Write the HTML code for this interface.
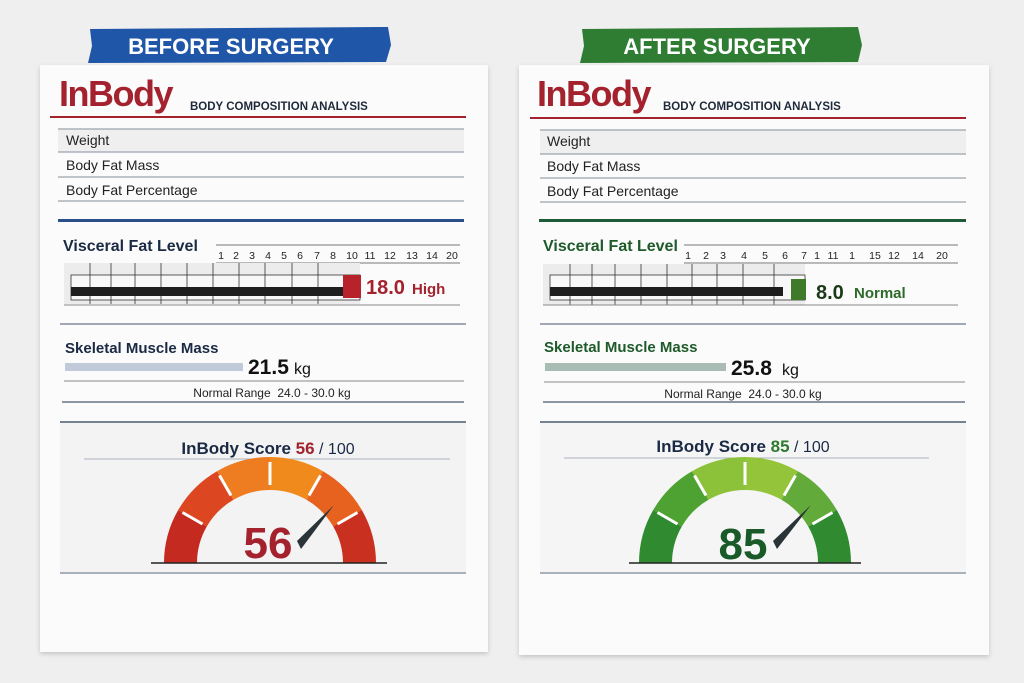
<!DOCTYPE html>
<html><head><meta charset="utf-8"><style>
html,body{margin:0;padding:0;background:#efefef;}
svg{display:block;}
text{font-family:"Liberation Sans",sans-serif;}
</style></head><body>
<svg width="1024" height="683" viewBox="0 0 1024 683" xmlns="http://www.w3.org/2000/svg">
<defs>
<filter id="sh" x="-5%" y="-5%" width="110%" height="110%"><feDropShadow dx="0" dy="2" stdDeviation="2.5" flood-color="#000" flood-opacity="0.18"/></filter>
</defs>
<rect width="1024" height="683" fill="#efefef"/>

<!-- LEFT -->
<path d="M90,29 L388,27 L391,45 L386,62 L88,63 L92,46Z" fill="#1f56a8"/>
<text x="231" y="54" text-anchor="middle" font-size="22" font-weight="bold" fill="#fff">BEFORE SURGERY</text>
<rect x="40" y="65" width="448" height="587" fill="#fbfbfb" filter="url(#sh)"/>
<text x="59" y="106" font-size="36" font-weight="bold" fill="#a3222e" letter-spacing="-1.5">InBody</text>
<text x="190" y="110" font-size="11.5" font-weight="bold" fill="#1e2a3a">BODY COMPOSITION ANALYSIS</text>
<rect x="50" y="116" width="416" height="2" fill="#a3222e"/>
<rect x="58" y="129" width="406" height="23" fill="#efefef"/>
<g stroke="#9aa3ad" stroke-width="1.2"><line x1="58" y1="129" x2="464" y2="129"/><line x1="58" y1="152" x2="464" y2="152"/><line x1="58" y1="177" x2="464" y2="177"/><line x1="58" y1="201" x2="464" y2="201"/></g>
<g font-size="14" fill="#222"><text x="66" y="145">Weight</text><text x="66" y="170">Body Fat Mass</text><text x="66" y="195">Body Fat Percentage</text></g>
<rect x="58" y="219" width="406" height="3" fill="#2a4f8a"/>
<text x="63" y="251" font-size="16" font-weight="bold" fill="#1a2a45">Visceral Fat Level</text>
<g stroke="#777" stroke-width="1"><line x1="216" y1="245" x2="460" y2="245"/><line x1="216" y1="263" x2="460" y2="263"/></g>
<g font-size="10.5" fill="#222" text-anchor="middle"><text x="221" y="259">1</text><text x="236" y="259">2</text><text x="252" y="259">3</text><text x="268" y="259">4</text><text x="284" y="259">5</text><text x="300" y="259">6</text><text x="317" y="259">7</text><text x="333" y="259">8</text><text x="352" y="259">10</text><text x="370" y="259">11</text><text x="390" y="259">12</text><text x="412" y="259">13</text><text x="432" y="259">14</text><text x="452" y="259">20</text></g>
<rect x="64" y="263" width="296" height="41" fill="#ececec"/>
<rect x="71" y="275" width="289" height="25" fill="#f8f8f8" stroke="#333" stroke-width="0.8"/>
<g stroke="#333" stroke-width="0.8"><line x1="90" y1="263" x2="90" y2="304"/><line x1="111" y1="263" x2="111" y2="304"/><line x1="135" y1="263" x2="135" y2="304"/><line x1="161" y1="263" x2="161" y2="304"/><line x1="187" y1="263" x2="187" y2="304"/><line x1="213" y1="263" x2="213" y2="304"/><line x1="239" y1="263" x2="239" y2="304"/><line x1="265" y1="263" x2="265" y2="304"/><line x1="292" y1="263" x2="292" y2="304"/><line x1="318" y1="263" x2="318" y2="304"/></g>
<rect x="71" y="287" width="274" height="9" fill="#1e1e1e"/>
<rect x="343" y="275" width="18" height="23" fill="#b8232b"/>
<text x="366" y="294" font-size="20" font-weight="bold" fill="#a3222e">18.0</text>
<text x="412" y="294" font-size="15" font-weight="bold" fill="#a3222e">High</text>
<line x1="64" y1="305" x2="460" y2="305" stroke="#888" stroke-width="1"/>
<line x1="60" y1="324" x2="466" y2="324" stroke="#6a7888" stroke-width="1.2"/>
<text x="65" y="353" font-size="15" font-weight="bold" fill="#1a2a45">Skeletal Muscle Mass</text>
<rect x="65" y="363" width="178" height="8" fill="#c0cad8"/>
<text x="248" y="374" font-size="21" font-weight="bold" fill="#111">21.5</text>
<text x="294" y="374" font-size="16" fill="#111">kg</text>
<line x1="64" y1="381" x2="464" y2="381" stroke="#888" stroke-width="1"/>
<text x="272" y="397" text-anchor="middle" font-size="12" fill="#222">Normal Range&#160; 24.0 - 30.0 kg</text>
<line x1="62" y1="402" x2="464" y2="402" stroke="#4a5a6e" stroke-width="1.2"/>
<rect x="60" y="423" width="406" height="150" fill="#f3f3f3"/>
<line x1="60" y1="422" x2="466" y2="422" stroke="#4a5a6e" stroke-width="1.5"/>
<text x="268" y="454" text-anchor="middle" font-size="17" font-weight="bold" fill="#1a2a45">InBody Score <tspan fill="#a3222e">56</tspan><tspan font-weight="normal" font-size="16"> / 100</tspan></text>
<line x1="84" y1="459" x2="450" y2="459" stroke="#aab2bc" stroke-width="1"/>
<g transform="translate(270,563)">
<path d="M-106,0 A106,106 0 0 1 -91.8,-53 L-63.2,-36.5 A73,73 0 0 0 -73,0Z" fill="#c42a1f"/>
<path d="M-91.8,-53 A106,106 0 0 1 -53,-91.8 L-36.5,-63.2 A73,73 0 0 0 -63.2,-36.5Z" fill="#dc4722"/>
<path d="M-53,-91.8 A106,106 0 0 1 0,-106 L0,-73 A73,73 0 0 0 -36.5,-63.2Z" fill="#ee7c20"/>
<path d="M0,-106 A106,106 0 0 1 53,-91.8 L36.5,-63.2 A73,73 0 0 0 0,-73Z" fill="#f08a1c"/>
<path d="M53,-91.8 A106,106 0 0 1 91.8,-53 L63.2,-36.5 A73,73 0 0 0 36.5,-63.2Z" fill="#e8621f"/>
<path d="M91.8,-53 A106,106 0 0 1 106,0 L73,0 A73,73 0 0 0 63.2,-36.5Z" fill="#c9301f"/>
<g stroke="#fff" stroke-width="3"><line x1="-67.5" y1="-39" x2="-87.5" y2="-50.5"/><line x1="-39" y1="-67.5" x2="-50.5" y2="-87.5"/><line x1="0" y1="-78" x2="0" y2="-101"/><line x1="39" y1="-67.5" x2="50.5" y2="-87.5"/><line x1="67.5" y1="-39" x2="87.5" y2="-50.5"/></g>
<polygon points="27,-22 64,-58 31,-14" fill="#2a3438"/>
<line x1="-119" y1="0" x2="117" y2="0" stroke="#222" stroke-width="1.5"/>
<text x="-2" y="-5" text-anchor="middle" font-size="44" font-weight="bold" fill="#a3222e">56</text>
</g>
<line x1="60" y1="573" x2="466" y2="573" stroke="#7a8898" stroke-width="1.2"/>

<!-- RIGHT -->
<path d="M582,29 L858,27 L862,45 L858,62 L580,63 L584,46Z" fill="#2e7d32"/>
<text x="717" y="54" text-anchor="middle" font-size="22" font-weight="bold" fill="#fff">AFTER SURGERY</text>
<rect x="519" y="65" width="470" height="590" fill="#fbfbfb" filter="url(#sh)"/>
<text x="537" y="106" font-size="36" font-weight="bold" fill="#a3222e" letter-spacing="-1.5">InBody</text>
<text x="663" y="110" font-size="11.5" font-weight="bold" fill="#1e2a3a">BODY COMPOSITION ANALYSIS</text>
<rect x="530" y="117" width="436" height="2" fill="#a3222e"/>
<rect x="540" y="130" width="426" height="24" fill="#efefef"/>
<g stroke="#9aa3ad" stroke-width="1.2"><line x1="540" y1="130" x2="966" y2="130"/><line x1="540" y1="154" x2="966" y2="154"/><line x1="540" y1="178" x2="966" y2="178"/><line x1="540" y1="202" x2="966" y2="202"/></g>
<g font-size="14" fill="#222"><text x="547" y="146">Weight</text><text x="547" y="171">Body Fat Mass</text><text x="547" y="196">Body Fat Percentage</text></g>
<rect x="539" y="219" width="427" height="3" fill="#1e5a3a"/>
<text x="543" y="251" font-size="16" font-weight="bold" fill="#1e5a2a">Visceral Fat Level</text>
<g stroke="#777" stroke-width="1"><line x1="684" y1="245" x2="958" y2="245"/><line x1="684" y1="263" x2="958" y2="263"/></g>
<g font-size="10.5" fill="#222" text-anchor="middle"><text x="688" y="259">1</text><text x="706" y="259">2</text><text x="723" y="259">3</text><text x="744" y="259">4</text><text x="765" y="259">5</text><text x="785" y="259">6</text><text x="804" y="259">7</text><text x="817" y="259">1</text><text x="833" y="259">11</text><text x="852" y="259">1</text><text x="875" y="259">15</text><text x="894" y="259">12</text><text x="918" y="259">14</text><text x="942" y="259">20</text></g>
<rect x="543" y="264" width="262" height="41" fill="#ececec"/>
<rect x="550" y="275" width="255" height="25" fill="#f8f8f8" stroke="#333" stroke-width="0.8"/>
<g stroke="#333" stroke-width="0.8"><line x1="570" y1="264" x2="570" y2="305"/><line x1="592" y1="264" x2="592" y2="305"/><line x1="615" y1="264" x2="615" y2="305"/><line x1="641" y1="264" x2="641" y2="305"/><line x1="667" y1="264" x2="667" y2="305"/><line x1="692" y1="264" x2="692" y2="305"/><line x1="717" y1="264" x2="717" y2="305"/><line x1="743" y1="264" x2="743" y2="305"/><line x1="774" y1="264" x2="774" y2="305"/></g>
<rect x="550" y="287" width="233" height="9" fill="#1e1e1e"/>
<rect x="791" y="279" width="15" height="21" fill="#3f7a2a"/>
<text x="816" y="299" font-size="20" font-weight="bold" fill="#1a3a1a">8.0</text>
<text x="854" y="298" font-size="15" font-weight="bold" fill="#2e6a2a">Normal</text>
<line x1="543" y1="305" x2="958" y2="305" stroke="#888" stroke-width="1"/>
<line x1="540" y1="324" x2="966" y2="324" stroke="#6a7888" stroke-width="1.2"/>
<text x="544" y="352" font-size="15" font-weight="bold" fill="#1e5a2a">Skeletal Muscle Mass</text>
<rect x="545" y="363" width="181" height="8" fill="#a8bcb4"/>
<text x="731" y="375" font-size="21" font-weight="bold" fill="#111">25.8</text>
<text x="782" y="375" font-size="16" fill="#111">kg</text>
<line x1="544" y1="382" x2="965" y2="382" stroke="#888" stroke-width="1"/>
<text x="743" y="398" text-anchor="middle" font-size="12" fill="#222">Normal Range&#160; 24.0 - 30.0 kg</text>
<line x1="543" y1="402" x2="965" y2="402" stroke="#4a5a6e" stroke-width="1.2"/>
<rect x="540" y="423" width="426" height="150" fill="#f5f5f5"/>
<line x1="540" y1="422" x2="966" y2="422" stroke="#4a5a6e" stroke-width="1.5"/>
<text x="743" y="452" text-anchor="middle" font-size="17" font-weight="bold" fill="#1a2a45">InBody Score <tspan fill="#2e7a2e">85</tspan><tspan font-weight="normal" font-size="16"> / 100</tspan></text>
<line x1="564" y1="458" x2="929" y2="458" stroke="#aab2bc" stroke-width="1"/>
<g transform="translate(745,563)">
<path d="M-106,0 A106,106 0 0 1 -91.8,-53 L-63.2,-36.5 A73,73 0 0 0 -73,0Z" fill="#2f8a30"/>
<path d="M-91.8,-53 A106,106 0 0 1 -53,-91.8 L-36.5,-63.2 A73,73 0 0 0 -63.2,-36.5Z" fill="#4ea232"/>
<path d="M-53,-91.8 A106,106 0 0 1 0,-106 L0,-73 A73,73 0 0 0 -36.5,-63.2Z" fill="#8cc13a"/>
<path d="M0,-106 A106,106 0 0 1 53,-91.8 L36.5,-63.2 A73,73 0 0 0 0,-73Z" fill="#93c43a"/>
<path d="M53,-91.8 A106,106 0 0 1 91.8,-53 L63.2,-36.5 A73,73 0 0 0 36.5,-63.2Z" fill="#62aa3a"/>
<path d="M91.8,-53 A106,106 0 0 1 106,0 L73,0 A73,73 0 0 0 63.2,-36.5Z" fill="#2f8a30"/>
<g stroke="#fff" stroke-width="3"><line x1="-67.5" y1="-39" x2="-87.5" y2="-50.5"/><line x1="-39" y1="-67.5" x2="-50.5" y2="-87.5"/><line x1="0" y1="-78" x2="0" y2="-101"/><line x1="39" y1="-67.5" x2="50.5" y2="-87.5"/><line x1="67.5" y1="-39" x2="87.5" y2="-50.5"/></g>
<polygon points="28,-22 66,-58 32,-14" fill="#2a3438"/>
<line x1="-116" y1="0" x2="116" y2="0" stroke="#222" stroke-width="1.5"/>
<text x="-2" y="-4" text-anchor="middle" font-size="44" font-weight="bold" fill="#1a5a28">85</text>
</g>
<line x1="540" y1="573" x2="966" y2="573" stroke="#7a8898" stroke-width="1.2"/>
</svg>
</body></html>
